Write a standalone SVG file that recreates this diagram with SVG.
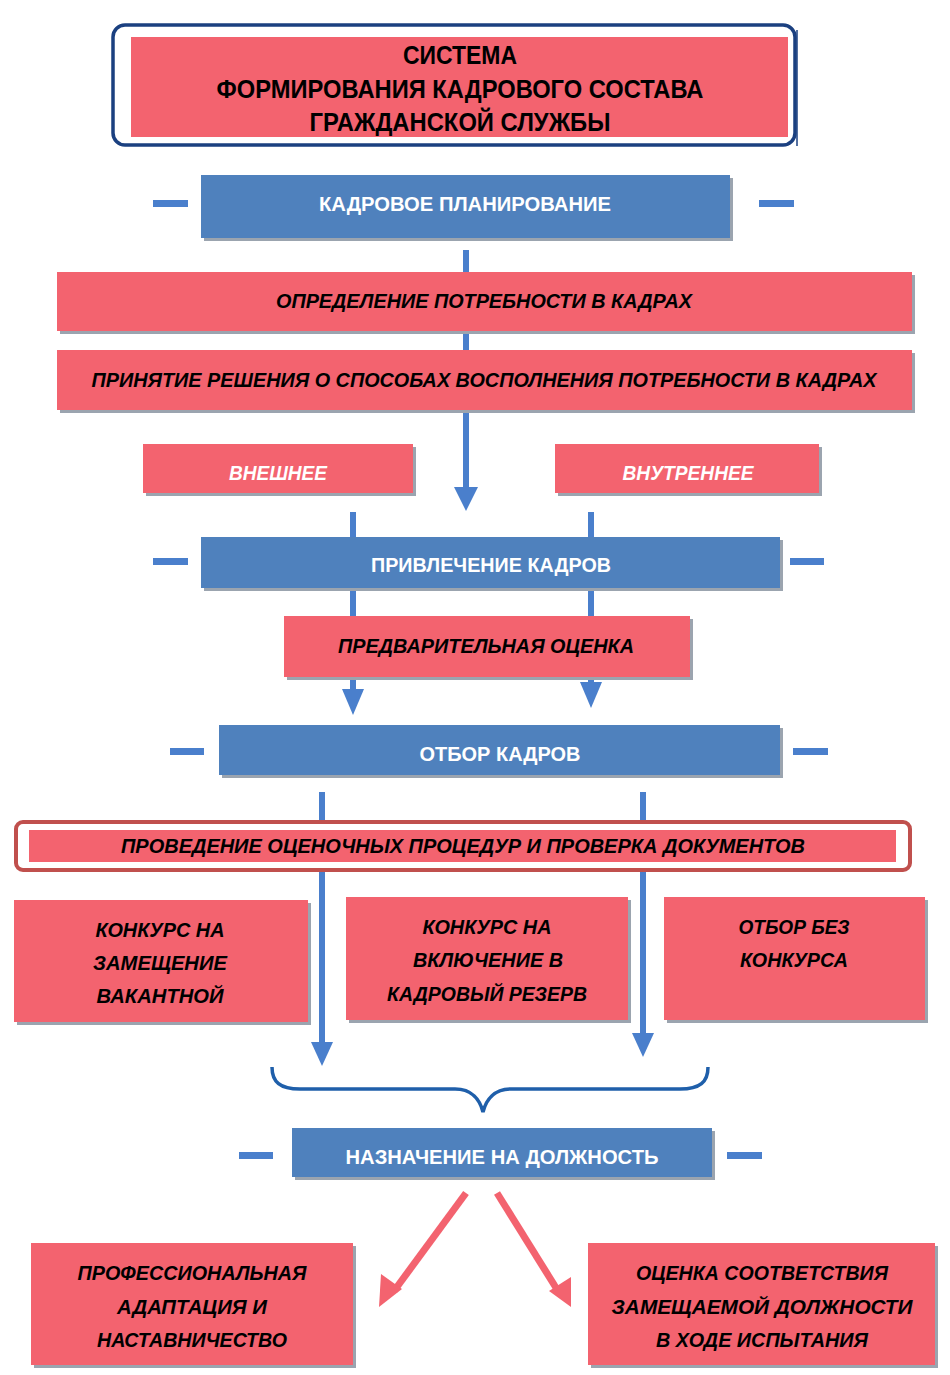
<svg xmlns="http://www.w3.org/2000/svg" width="950" height="1375" viewBox="0 0 950 1375">
<defs>
<style>
.pink{fill:#F3636F}
.blue{fill:#4F81BD}
.sh{fill:#9BA4AF}
.t{font-family:"Liberation Sans",Arial,sans-serif;font-weight:bold;text-anchor:middle;dominant-baseline:central}
.tb{font-size:21px;fill:#ffffff}
.ti{font-size:21px;font-style:italic;fill:#000000}
.tw{font-size:21px;font-style:italic;fill:#ffffff}
.tt{font-size:25px;fill:#000000}
.ln{stroke:#4A7FCC;stroke-width:6;fill:none}
.dash{fill:#4A7FCC}
.ah{fill:#4A7FCC}
.red{stroke:#F3636F;stroke-width:7;fill:none}
.rah{fill:#F3636F}
</style>
</defs>

<g id="connectors">
<line class="ln" x1="466" y1="250" x2="466" y2="272"/>
<line class="ln" x1="466" y1="331" x2="466" y2="350"/>
<line class="ln" x1="466" y1="410" x2="466" y2="490"/>
<polygon class="ah" points="454,487 478,487 466,511"/>
<line class="ln" x1="353" y1="512" x2="353" y2="692"/>
<polygon class="ah" points="342,689 364,689 353,715"/>
<line class="ln" x1="591" y1="512" x2="591" y2="685"/>
<polygon class="ah" points="580,682 602,682 591,708"/>
<line class="ln" x1="322" y1="792" x2="322" y2="1045"/>
<polygon class="ah" points="311,1042 333,1042 322,1066"/>
<line class="ln" x1="643" y1="792" x2="643" y2="1036"/>
<polygon class="ah" points="632,1033 654,1033 643,1057"/>
<path d="M272,1067 C272,1082 280,1089 300,1089 L455,1089 C472,1089 480,1100 483,1112 C486,1100 494,1089 511,1089 L680,1089 C700,1089 708,1082 708,1067" stroke="#1F5FAA" stroke-width="3.5" fill="none"/>
<line class="red" x1="466" y1="1193" x2="394" y2="1291"/>
<polygon class="rah" points="381,1274 402,1289 379,1307"/>
<line class="red" x1="497" y1="1193" x2="558" y2="1291"/>
<polygon class="rah" points="549,1291 571,1277 571,1307"/>
<rect class="dash" x="153" y="200" width="35" height="7"/>
<rect class="dash" x="759" y="200" width="35" height="7"/>
<rect class="dash" x="153" y="558" width="35" height="7"/>
<rect class="dash" x="790" y="558" width="34" height="7"/>
<rect class="dash" x="170" y="748" width="34" height="7"/>
<rect class="dash" x="793" y="748" width="35" height="7"/>
<rect class="dash" x="239" y="1152" width="34" height="7"/>
<rect class="dash" x="727" y="1152" width="35" height="7"/>
</g>

<g id="title">
<rect x="113" y="25" width="682" height="120" rx="12" fill="#ffffff" stroke="#1B4080" stroke-width="3.5"/>
<line x1="797" y1="30" x2="797" y2="146" stroke="#1B4080" stroke-width="1.5"/>
<rect class="pink" x="131" y="37" width="657" height="100"/>
<text class="t tt" x="460" y="55" textLength="114" lengthAdjust="spacingAndGlyphs">СИСТЕМА</text>
<text class="t tt" x="460" y="89" textLength="487" lengthAdjust="spacingAndGlyphs">ФОРМИРОВАНИЯ КАДРОВОГО СОСТАВА</text>
<text class="t tt" x="460" y="122" textLength="301" lengthAdjust="spacingAndGlyphs">ГРАЖДАНСКОЙ СЛУЖБЫ</text>
</g>

<g id="planning">
<rect class="sh" x="204" y="178" width="529" height="63"/>
<rect class="blue" x="201" y="175" width="529" height="63"/>
<text class="t tb" x="465" y="203" textLength="292" lengthAdjust="spacingAndGlyphs">КАДРОВОЕ ПЛАНИРОВАНИЕ</text>
</g>

<g id="need">
<rect class="sh" x="60" y="275" width="855" height="59"/>
<rect class="pink" x="57" y="272" width="855" height="59"/>
<text class="t ti" x="484" y="300" textLength="416" lengthAdjust="spacingAndGlyphs">ОПРЕДЕЛЕНИЕ ПОТРЕБНОСТИ В КАДРАХ</text>
</g>

<g id="decision">
<rect class="sh" x="60" y="353" width="855" height="60"/>
<rect class="pink" x="57" y="350" width="855" height="60"/>
<text class="t ti" x="484" y="379" textLength="785" lengthAdjust="spacingAndGlyphs">ПРИНЯТИЕ РЕШЕНИЯ О СПОСОБАХ ВОСПОЛНЕНИЯ ПОТРЕБНОСТИ В КАДРАХ</text>
</g>

<g id="external">
<rect class="sh" x="146" y="447" width="270" height="49"/>
<rect class="pink" x="143" y="444" width="270" height="49"/>
<text class="t tw" x="278" y="472" textLength="98" lengthAdjust="spacingAndGlyphs">ВНЕШНЕЕ</text>
</g>

<g id="internal">
<rect class="sh" x="558" y="447" width="264" height="49"/>
<rect class="pink" x="555" y="444" width="264" height="49"/>
<text class="t tw" x="688" y="472" textLength="131" lengthAdjust="spacingAndGlyphs">ВНУТРЕННЕЕ</text>
</g>

<g id="attraction">
<rect class="sh" x="204" y="540" width="579" height="51"/>
<rect class="blue" x="201" y="537" width="579" height="51"/>
<text class="t tb" x="491" y="564" textLength="240" lengthAdjust="spacingAndGlyphs">ПРИВЛЕЧЕНИЕ КАДРОВ</text>
</g>

<g id="preliminary">
<rect class="sh" x="287" y="619" width="406" height="61"/>
<rect class="pink" x="284" y="616" width="406" height="61"/>
<text class="t ti" x="486" y="645" textLength="296" lengthAdjust="spacingAndGlyphs">ПРЕДВАРИТЕЛЬНАЯ ОЦЕНКА</text>
</g>

<g id="selection">
<rect class="sh" x="222" y="728" width="561" height="50"/>
<rect class="blue" x="219" y="725" width="561" height="50"/>
<text class="t tb" x="500" y="753" textLength="161" lengthAdjust="spacingAndGlyphs">ОТБОР КАДРОВ</text>
</g>

<g id="procedures">
<rect x="16" y="822" width="894" height="48" rx="7" fill="#ffffff" stroke="#C0504D" stroke-width="4"/>
<rect class="pink" x="29" y="830" width="867" height="32"/>
<text class="t ti" x="463" y="845" textLength="684" lengthAdjust="spacingAndGlyphs">ПРОВЕДЕНИЕ ОЦЕНОЧНЫХ ПРОЦЕДУР И ПРОВЕРКА ДОКУМЕНТОВ</text>
</g>

<g id="contest-vacant">
<rect class="sh" x="17" y="903" width="294" height="122"/>
<rect class="pink" x="14" y="900" width="294" height="122"/>
<text class="t ti" x="160" y="929" textLength="129" lengthAdjust="spacingAndGlyphs">КОНКУРС НА</text>
<text class="t ti" x="160" y="962" textLength="134" lengthAdjust="spacingAndGlyphs">ЗАМЕЩЕНИЕ</text>
<text class="t ti" x="160" y="995" textLength="127" lengthAdjust="spacingAndGlyphs">ВАКАНТНОЙ</text>
</g>

<g id="contest-reserve">
<rect class="sh" x="349" y="900" width="282" height="123"/>
<rect class="pink" x="346" y="897" width="282" height="123"/>
<text class="t ti" x="487" y="926" textLength="129" lengthAdjust="spacingAndGlyphs">КОНКУРС НА</text>
<text class="t ti" x="488" y="959" textLength="150" lengthAdjust="spacingAndGlyphs">ВКЛЮЧЕНИЕ В</text>
<text class="t ti" x="487" y="993" textLength="200" lengthAdjust="spacingAndGlyphs">КАДРОВЫЙ РЕЗЕРВ</text>
</g>

<g id="no-contest">
<rect class="sh" x="667" y="900" width="261" height="123"/>
<rect class="pink" x="664" y="897" width="261" height="123"/>
<text class="t ti" x="794" y="926" textLength="111" lengthAdjust="spacingAndGlyphs">ОТБОР БЕЗ</text>
<text class="t ti" x="794" y="959" textLength="108" lengthAdjust="spacingAndGlyphs">КОНКУРСА</text>
</g>

<g id="appointment">
<rect class="sh" x="295" y="1131" width="420" height="49"/>
<rect class="blue" x="292" y="1128" width="420" height="49"/>
<text class="t tb" x="502" y="1156" textLength="313" lengthAdjust="spacingAndGlyphs">НАЗНАЧЕНИЕ НА ДОЛЖНОСТЬ</text>
</g>

<g id="adaptation">
<rect class="sh" x="34" y="1246" width="322" height="122"/>
<rect class="pink" x="31" y="1243" width="322" height="122"/>
<text class="t ti" x="192" y="1272" textLength="229" lengthAdjust="spacingAndGlyphs">ПРОФЕССИОНАЛЬНАЯ</text>
<text class="t ti" x="192" y="1306" textLength="150" lengthAdjust="spacingAndGlyphs">АДАПТАЦИЯ И</text>
<text class="t ti" x="192" y="1339" textLength="190" lengthAdjust="spacingAndGlyphs">НАСТАВНИЧЕСТВО</text>
</g>

<g id="probation">
<rect class="sh" x="591" y="1246" width="347" height="122"/>
<rect class="pink" x="588" y="1243" width="347" height="122"/>
<text class="t ti" x="762" y="1272" textLength="252" lengthAdjust="spacingAndGlyphs">ОЦЕНКА СООТВЕТСТВИЯ</text>
<text class="t ti" x="762" y="1306" textLength="301" lengthAdjust="spacingAndGlyphs">ЗАМЕЩАЕМОЙ ДОЛЖНОСТИ</text>
<text class="t ti" x="762" y="1339" textLength="212" lengthAdjust="spacingAndGlyphs">В ХОДЕ ИСПЫТАНИЯ</text>
</g>
</svg>
